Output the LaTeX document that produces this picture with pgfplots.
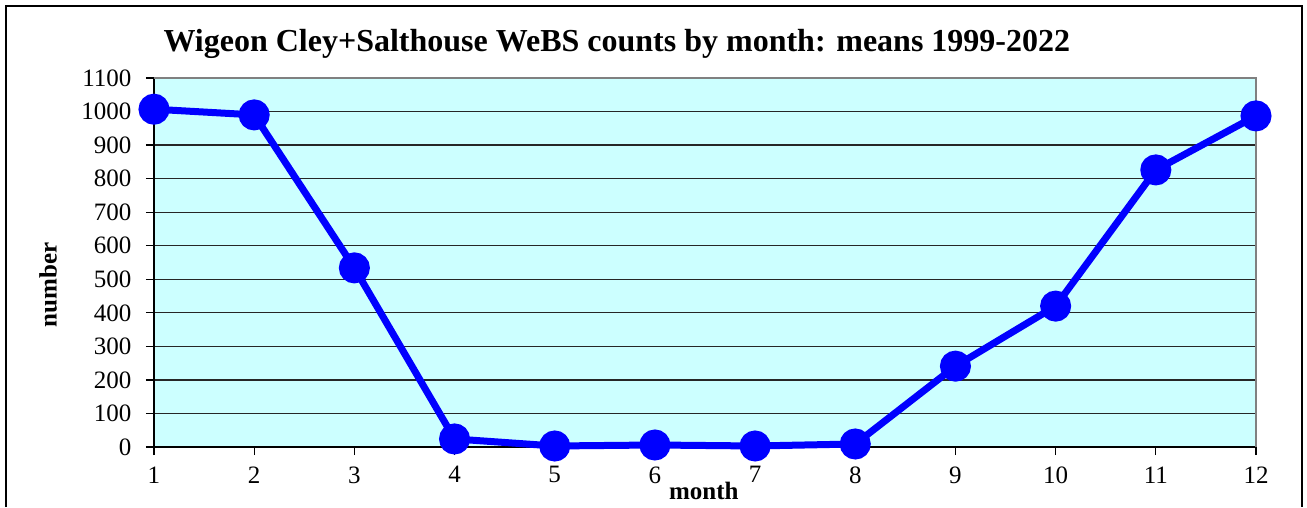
\documentclass[border=0pt]{standalone}
\usepackage{fontspec}
\setmainfont{Liberation Serif}
\usepackage{pgfplots}
\pgfplotsset{compat=1.18}
\definecolor{plotbg}{HTML}{CCFFFF}
\definecolor{bordergray}{HTML}{808080}
\definecolor{lineblue}{HTML}{0000FF}
\begin{document}
\begin{tikzpicture}[x=1pt,y=1pt]
\path[use as bounding box] (0,0) rectangle (1307,507);
\draw[line width=1.6pt] (6,0) -- (6,501) -- (1302,501) -- (1302,0);
\begin{axis}[
  at={(154pt,60pt)}, anchor=south west,
  scale only axis, width=1102pt, height=369pt,
  xmin=1, xmax=12, ymin=0, ymax=1100,
  xtick={1,...,12}, ytick={0,100,...,1100},
  axis lines=left, axis line style={-, black, line width=1.6pt},
  axis background/.style={fill=plotbg},
  ymajorgrids, grid style={black!85, line width=1.3pt},
  tick align=outside, major tick length=8pt,
  tick style={black, line width=1.3pt},
  /pgf/number format/assume math mode=true,
  /pgf/number format/1000 sep={},
  ticklabel style={font=\fontsize{25}{25}\selectfont},
  xticklabel style={yshift=-8pt},
  yticklabel style={xshift=-11pt},
  clip=false,
  title={Wigeon Cley+Salthouse WeBS counts by month: means 1999-2022},
  title style={font=\fontsize{32}{32}\selectfont\bfseries, at={(axis description cs:0.42,1.075)}, anchor=center},
  xlabel={month}, ylabel={number},
  xlabel style={font=\fontsize{25}{25}\selectfont\bfseries, at={(axis description cs:0.499,-0.118)}, anchor=center},
  ylabel style={font=\fontsize{25}{25}\selectfont\bfseries, at={(axis description cs:-0.096,0.44)}, anchor=center},
]
\draw[bordergray, line width=1.6pt] (axis description cs:0,1) -- (axis description cs:1,1) -- (axis description cs:1,0);
\addplot[color=lineblue, line width=7pt, mark=*, mark size=12pt, mark options={draw=none, fill=lineblue}]
  coordinates {
  (1,1007) (2,990) (3,534) (4,24) (5,3) (6,6)
  (7,3) (8,9) (9,241) (10,420) (11,826) (12,987)
  };
\end{axis}
\end{tikzpicture}
\end{document}
